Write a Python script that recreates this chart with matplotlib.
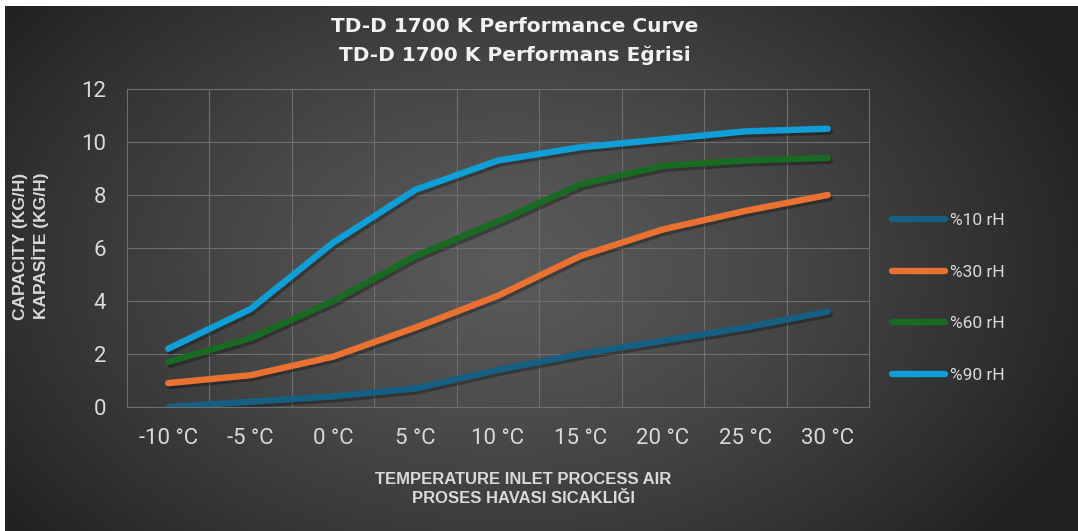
import matplotlib.pyplot as plt
import matplotlib.patheffects as pe
import numpy as np

# -------------------------------
# Data
# -------------------------------

temps = ['-10 °C', '-5 °C', '0 °C', '5 °C', '10 °C', '15 °C', '20 °C', '25 °C', '30 °C']

rh10 = [0.0, 0.2, 0.4, 0.7, 1.4, 2.0, 2.5, 3.0, 3.6]
rh30 = [0.9, 1.2, 1.9, 3.0, 4.2, 5.7, 6.7, 7.4, 8.0]
rh60 = [1.7, 2.6, 4.0, 5.7, 7.0, 8.4, 9.1, 9.3, 9.4]
rh90 = [2.2, 3.7, 6.2, 8.2, 9.3, 9.8, 10.1, 10.4, 10.5]

series_labels = ['%10 rH', '%30 rH', '%60 rH', '%90 rH']
series_colors = ['#156082', '#e97132', '#196b24', '#0f9ed5']

title_lines = ['TD-D 1700 K Performance Curve', 'TD-D 1700 K Performans Eğrisi']
x_label = 'TEMPERATURE INLET PROCESS AIR\nPROSES HAVASI SICAKLIĞI'
y_label = 'CAPACITY (KG/H)\nKAPASİTE (KG/H)'

# -------------------------------
# Figure
# -------------------------------

W, H = 1078, 531
fig = plt.figure(figsize=(W / 100, H / 100), dpi=100, facecolor='white')

# radial gradient background (dark grey, lighter in the middle)
bg = fig.add_axes([5 / W, 0, (W - 5) / W, (H - 6) / H])
bw, bh = W - 5, H - 6
yy, xx = np.mgrid[0:bh, 0:bw]
r = np.sqrt(((xx - 500) / 620.0) ** 2 + ((yy - 260) / 420.0) ** 2)
r = np.clip(r, 0, 1) ** 1.3
c0 = np.array([0x5a, 0x5a, 0x5a]) / 255
c1 = np.array([0x22, 0x22, 0x22]) / 255
img = c0[None, None, :] * (1 - r[..., None]) + c1[None, None, :] * r[..., None]
bg.imshow(img, aspect='auto', interpolation='bilinear')
bg.axis('off')

ax = fig.add_axes([127 / W, 124 / H, 742 / W, 318 / H])
ax.set_facecolor('none')

x = np.arange(len(temps))
shadow = [pe.SimpleLineShadow(offset=(1.5, -2), shadow_color='black', alpha=0.3), pe.Normal()]
for y, lab, col in zip([rh10, rh30, rh60, rh90], series_labels, series_colors):
    ax.plot(x, y, color=col, lw=4.6, solid_capstyle='round', solid_joinstyle='round',
            label=lab, path_effects=shadow)

ax.set_xlim(-0.5, len(temps) - 0.5)
ax.set_ylim(0, 12)
ax.set_yticks(np.arange(0, 13, 2))
ax.set_xticks(x)
ax.set_xticklabels(temps)
ax.set_xticks(np.arange(0.5, len(temps) - 1, 1), minor=True)

grid_col = '#6e6e6e'
ax.grid(axis='y', which='major', color=grid_col, lw=0.8)
ax.grid(axis='x', which='minor', color=grid_col, lw=0.8)
for s in ax.spines.values():
    s.set_color(grid_col)
    s.set_linewidth(0.8)
ax.tick_params(which='both', length=0)
ax.tick_params(axis='y', pad=15, labelsize=16, labelcolor='#d9d9d9')
ax.tick_params(axis='x', pad=15, labelsize=16, labelcolor='#d9d9d9')
for t in ax.get_xticklabels() + ax.get_yticklabels():
    t.set_fontfamily('Roboto')

# titles and axis labels
fig.text(515 / W, 1 - 27 / H, title_lines[0], ha='center', va='center', fontsize=14.5,
         fontweight='bold', color='#f2f2f2', family='DejaVu Sans')
fig.text(515 / W, 1 - 55 / H, title_lines[1], ha='center', va='center', fontsize=14.5,
         fontweight='bold', color='#f2f2f2', family='DejaVu Sans')
fig.text(523 / W, 1 - 489 / H, x_label, ha='center', va='center', fontsize=12,
         fontweight='bold', color='#d9d9d9', family='Liberation Sans', linespacing=1.3)
fig.text(31 / W, 1 - 246 / H, y_label, ha='center', va='center', rotation=90, fontsize=12.5,
         fontweight='bold', color='#d9d9d9', family='Liberation Sans', linespacing=1.25)

leg = fig.legend(loc='center left', bbox_to_anchor=(876 / W, 1 - 298 / H), frameon=False,
                 handlelength=3.1, handletextpad=0.25, labelspacing=2.1,
                 prop={'family': 'Roboto', 'size': 12.5})
for t in leg.get_texts():
    t.set_color('#d9d9d9')
for h in leg.get_lines():
    h.set_path_effects([])
    h.set_linewidth(4.6)
    h.set_solid_capstyle('round')

fig.savefig('out.png', dpi=100, facecolor='white')
